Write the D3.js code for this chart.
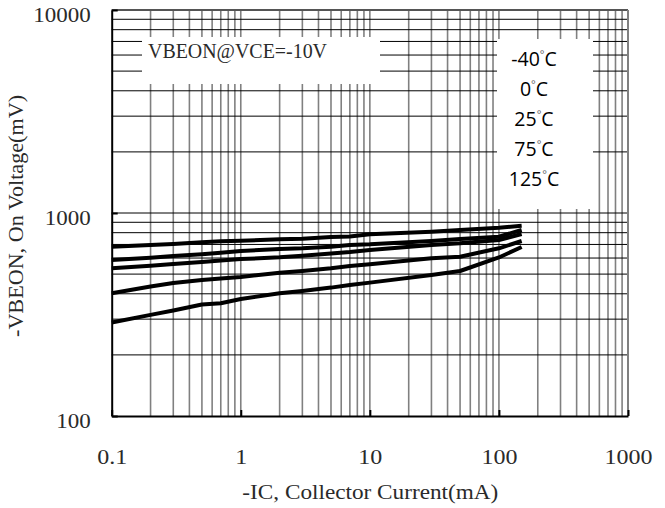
<!DOCTYPE html>
<html>
<head>
<meta charset="utf-8">
<script src="https://cdn.jsdelivr.net/npm/d3@7"></script>
<style>
  html, body { margin: 0; padding: 0; background: #fff; }
  svg { display: block; }
</style>
</head>
<body>
<svg id="chart" width="665" height="508"></svg>
<script>
// ---- data ----
const currents = [0.1, 0.2, 0.3, 0.5, 0.7, 1, 2, 3, 5, 7, 10, 30, 50, 100, 150]; // -IC (mA)
const vbeM40 = [682, 696, 704, 717, 726, 730, 743, 747, 762, 766, 785, 809, 825, 846, 866];
const vbe0   = [587, 602, 614, 626, 637, 650, 665, 670, 682, 696, 701, 728, 745, 764, 825];
const vbe25  = [534, 550, 561, 574, 583, 593, 605, 616, 632, 642, 657, 696, 709, 736, 788];
const vbe75  = [402, 434, 452, 468, 476, 484, 508, 518, 534, 548, 559, 598, 609, 670, 728];
const vbe125 = [289, 315, 331, 354, 359, 377, 402, 413, 429, 442, 454, 495, 518, 604, 680];
const seriesValues = [vbeM40, vbe0, vbe25, vbe75, vbe125];
const legendLabels = ["-40", "0", "25", "75", "125"];
const xTicks = [0.1, 1, 10, 100, 1000];
const xTickLabels = ["0.1", "1", "10", "100", "1000"];
const yTicks = [100, 1000, 10000];
const yTickLabels = ["100", "1000", "10000"];
const conditionText = "VBEON@VCE=-10V";
const xTitle = "-IC, Collector Current(mA)";
const yTitle = "-VBEON, On Voltage(mV)";

// ---- layout ----
const L = 111.7, R = 628, T = 10, B = 416;
const svg = d3.select("#chart");
const x = d3.scaleLog().domain([0.1, 1000]).range([L, R]);
const y = d3.scaleLog().domain([100, 10000]).range([B, T]);
const serif = "'Liberation Serif', 'Times New Roman', serif";
const textCol = "#2a2a2a";

// grid values (1..9 per decade)
const xGrid = [], yGrid = [];
for (let d = -1; d < 3; d++) for (let m = 1; m < 10; m++) { const v = m * Math.pow(10, d); if (v > 0.1) xGrid.push(v); }
for (let d = 2; d < 4; d++) for (let m = 1; m < 10; m++) { const v = m * Math.pow(10, d); if (v > 100) yGrid.push(v); }

const grid = svg.append("g");
grid.selectAll("line.v").data(xGrid).join("line")
  .attr("x1", d => x(d)).attr("x2", d => x(d)).attr("y1", T).attr("y2", B)
  .attr("stroke", "#808080").attr("stroke-width", 1.6);
grid.selectAll("line.h").data(yGrid).join("line")
  .attr("x1", L).attr("x2", R).attr("y1", d => y(d)).attr("y2", d => y(d))
  .attr("stroke", "#000").attr("stroke-width", 1);

// frame: top/right gray, left/bottom black
svg.append("line").attr("x1", L).attr("x2", R).attr("y1", T).attr("y2", T).attr("stroke", "#555").attr("stroke-width", 2);
svg.append("line").attr("x1", R).attr("x2", R).attr("y1", T).attr("y2", B).attr("stroke", "#808080").attr("stroke-width", 2);

// white annotation boxes (they interrupt the grid)
svg.append("rect").attr("x", 142).attr("y", 37).attr("width", 238).attr("height", 47).attr("fill", "#fff");
svg.append("rect").attr("x", 497).attr("y", 39).attr("width", 96).attr("height", 170).attr("fill", "#fff");

// axes
const xAxis = svg.append("g").attr("transform", `translate(0,${B})`)
  .call(d3.axisBottom(x).tickValues(xTicks).tickFormat((d, i) => xTickLabels[i]).tickSizeInner(-6).tickSizeOuter(0));
xAxis.select(".domain").attr("stroke", "#000").attr("stroke-width", 2);
xAxis.selectAll(".tick line").attr("stroke", "#000").attr("stroke-width", 2);
xAxis.selectAll(".tick text").attr("y", 48.5).attr("dy", null)
  .attr("font-family", serif).attr("font-size", 20).attr("fill", textCol)
  .attr("transform", "scale(1.2,1)");

const yAxis = svg.append("g").attr("transform", `translate(${L},0)`)
  .call(d3.axisLeft(y).tickValues(yTicks).tickFormat((d, i) => yTickLabels[i]).tickSizeInner(-6).tickSizeOuter(0));
yAxis.select(".domain").attr("stroke", "#000").attr("stroke-width", 2);
yAxis.selectAll(".tick line").attr("stroke", "#000").attr("stroke-width", 2);
yAxis.selectAll(".tick text").attr("x", 0).attr("dy", null).attr("y", 11.5)
  .attr("font-family", serif).attr("font-size", 20).attr("fill", textCol)
  .attr("transform", "translate(-21,0) scale(1.15,1)");

// curves
const line = d3.line().x(d => x(d[0])).y(d => y(d[1]));
svg.append("g").selectAll("path").data(seriesValues).join("path")
  .attr("d", vals => line(currents.map((c, i) => [c, vals[i]])))
  .attr("fill", "none").attr("stroke", "#000").attr("stroke-width", 4)
  .attr("stroke-linejoin", "round").attr("stroke-linecap", "butt");

// condition label
svg.append("text").attr("x", 148).attr("y", 57.5).text(conditionText)
  .attr("font-family", serif).attr("font-size", 21).attr("fill", textCol)
  .attr("textLength", 179).attr("lengthAdjust", "spacingAndGlyphs");

// legend texts
const leg = svg.append("g");
legendLabels.forEach((t, i) => {
  const tx = leg.append("text").attr("x", 534).attr("y", 66 + i * 30)
    .attr("text-anchor", "middle").attr("font-family", "'Open Sans', 'Noto Sans', sans-serif")
    .attr("font-size", 19.5).attr("fill", "#000");
  tx.append("tspan").text(t);
  tx.append("tspan").text("°").attr("font-size", 11).attr("dy", -8).attr("fill", "#666");
  tx.append("tspan").text("C").attr("dy", 8);
});

// axis titles
svg.append("text").attr("x", (L + R) / 2 + 0.5).attr("y", 499).attr("text-anchor", "middle")
  .attr("font-family", serif).attr("font-size", 20).attr("fill", textCol)
  .attr("textLength", 256).attr("lengthAdjust", "spacingAndGlyphs").text(xTitle);
svg.append("text").attr("transform", "translate(23,216) rotate(-90)").attr("text-anchor", "middle")
  .attr("font-family", serif).attr("font-size", 20).attr("fill", textCol)
  .attr("textLength", 242).attr("lengthAdjust", "spacingAndGlyphs").text(yTitle);
</script>
</body>
</html>
